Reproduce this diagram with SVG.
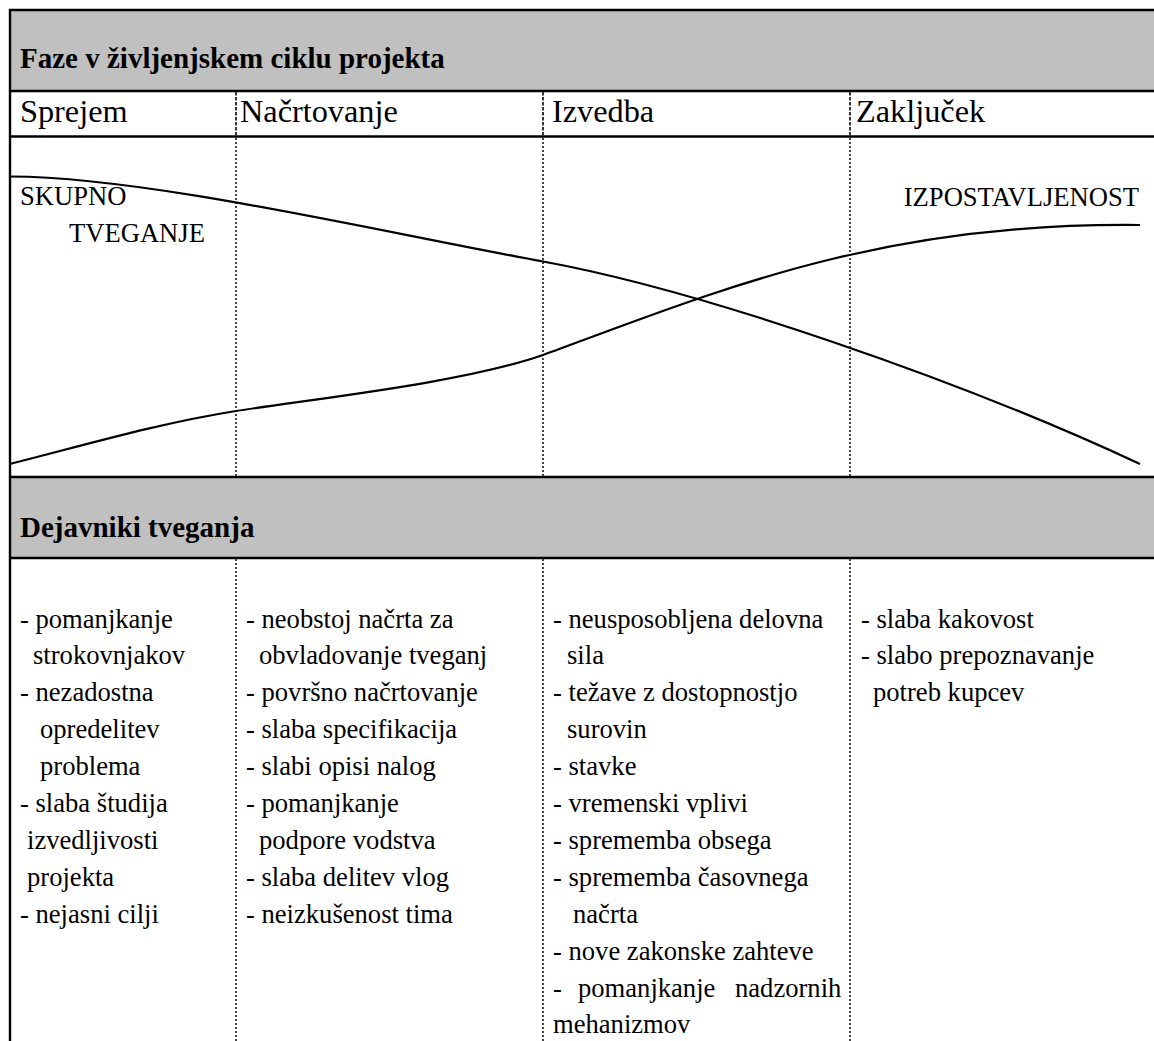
<svg xmlns="http://www.w3.org/2000/svg" width="1154" height="1041" viewBox="0 0 1154 1041">
  <defs>
    <style>
      .hd { font-family: 'Liberation Serif', 'DejaVu Serif', serif; font-size: 29px; font-weight: bold; fill: #000; }
      .ph { font-family: 'Liberation Serif', 'DejaVu Serif', serif; font-size: 32.3px; fill: #000; }
      .tx { font-family: 'Liberation Serif', 'DejaVu Serif', serif; font-size: 26.6px; fill: #000; }
      .rule { stroke: #000; stroke-width: 2.4; fill: none; }
      .dots { stroke: #444; stroke-width: 2; stroke-dasharray: 2 2; fill: none; }
      .dash { stroke: #222; stroke-width: 1.8; stroke-dasharray: 3.5 1.5; fill: none; }
      .curve { stroke: #000; stroke-width: 2.2; fill: none; }
    </style>
  </defs>

  <rect width="1154" height="1041" fill="#fff"/>

  <!-- table frame and shaded header bands -->
  <g id="frame">
    <rect x="10" y="10" width="1144" height="81" fill="#c0c0c0"/>
    <rect x="10" y="477" width="1144" height="81" fill="#c0c0c0"/>
    <line class="rule" x1="9" y1="10" x2="1154" y2="10"/>
    <line class="rule" x1="10" y1="91" x2="1154" y2="91"/>
    <line class="rule" x1="10" y1="136.5" x2="1154" y2="136.5"/>
    <line class="rule" x1="10" y1="477" x2="1154" y2="477"/>
    <line class="rule" x1="10" y1="558" x2="1154" y2="558"/>
    <line class="rule" x1="10" y1="9" x2="10" y2="1041"/>
  </g>

  <!-- phase dividers -->
  <g id="dividers">
    <line class="dash" x1="236" y1="92" x2="236" y2="136"/>
    <line class="dash" x1="543" y1="92" x2="543" y2="136"/>
    <line class="dash" x1="850" y1="92" x2="850" y2="136"/>
    <line class="dots" x1="236" y1="138" x2="236" y2="476"/>
    <line class="dots" x1="543" y1="138" x2="543" y2="476"/>
    <line class="dots" x1="850" y1="138" x2="850" y2="476"/>
    <line class="dots" x1="236" y1="559" x2="236" y2="1041"/>
    <line class="dots" x1="543" y1="559" x2="543" y2="1041"/>
    <line class="dots" x1="850" y1="559" x2="850" y2="1041"/>
  </g>

  <g id="title-lifecycle">
    <text class="hd" x="20" y="68">Faze v življenjskem ciklu projekta</text>
  </g>

  <g id="phase-labels">
    <text class="ph" x="20" y="122">Sprejem</text>
    <text class="ph" x="240" y="122">Načrtovanje</text>
    <text class="ph" x="552" y="122">Izvedba</text>
    <text class="ph" x="856" y="122">Zaključek</text>
  </g>

  <!-- risk and exposure curves -->
  <g id="curves">
    <path id="risk-curve" class="curve" d="M10,176.5 C150,177 380,232 543,261.5 C700,290 960,380 1140,464"/>
    <path id="exposure-curve" class="curve" d="M10,464 C85,445 160,423 236,411 C312,399 463,383 543,355 C720,290 880,222 1140,225"/>
  </g>

  <g id="curve-labels">
    <text class="tx" x="20" y="205">SKUPNO</text>
    <text class="tx" x="69" y="242">TVEGANJE</text>
    <text class="tx" x="1139" y="205.5" text-anchor="end">IZPOSTAVLJENOST</text>
  </g>

  <g id="title-factors">
    <text class="hd" x="20" y="537">Dejavniki tveganja</text>
  </g>

  <g id="factors-sprejem">
    <text class="tx" x="20" y="627.5">- pomanjkanje</text>
    <text class="tx" x="33" y="664.4">strokovnjakov</text>
    <text class="tx" x="20" y="701.3">- nezadostna</text>
    <text class="tx" x="40" y="738.2">opredelitev</text>
    <text class="tx" x="40" y="775.1">problema</text>
    <text class="tx" x="20" y="812">- slaba študija</text>
    <text class="tx" x="27" y="848.9">izvedljivosti</text>
    <text class="tx" x="27" y="885.8">projekta</text>
    <text class="tx" x="20" y="922.7">- nejasni cilji</text>
  </g>

  <g id="factors-nacrtovanje">
    <text class="tx" x="246" y="627.5">- neobstoj načrta za</text>
    <text class="tx" x="259" y="664.4">obvladovanje tveganj</text>
    <text class="tx" x="246" y="701.3">- površno načrtovanje</text>
    <text class="tx" x="246" y="738.2">- slaba specifikacija</text>
    <text class="tx" x="246" y="775.1">- slabi opisi nalog</text>
    <text class="tx" x="246" y="812">- pomanjkanje</text>
    <text class="tx" x="259" y="848.9">podpore vodstva</text>
    <text class="tx" x="246" y="885.8">- slaba delitev vlog</text>
    <text class="tx" x="246" y="922.7">- neizkušenost tima</text>
  </g>

  <g id="factors-izvedba">
    <text class="tx" x="553" y="627.5">- neusposobljena delovna</text>
    <text class="tx" x="567" y="664.4">sila</text>
    <text class="tx" x="553" y="701.3">- težave z dostopnostjo</text>
    <text class="tx" x="567" y="738.2">surovin</text>
    <text class="tx" x="553" y="775.1">- stavke</text>
    <text class="tx" x="553" y="812">- vremenski vplivi</text>
    <text class="tx" x="553" y="848.9">- sprememba obsega</text>
    <text class="tx" x="553" y="885.8">- sprememba časovnega</text>
    <text class="tx" x="573" y="922.7">načrta</text>
    <text class="tx" x="553" y="959.6">- nove zakonske zahteve</text>
    <text class="tx" x="553" y="996.5">-</text>
    <text class="tx" x="578" y="996.5">pomanjkanje</text>
    <text class="tx" x="735" y="996.5">nadzornih</text>
    <text class="tx" x="553" y="1033.4">mehanizmov</text>
  </g>

  <g id="factors-zakljucek">
    <text class="tx" x="861" y="627.5">- slaba kakovost</text>
    <text class="tx" x="861" y="664.4">- slabo prepoznavanje</text>
    <text class="tx" x="873" y="701.3">potreb kupcev</text>
  </g>
</svg>
